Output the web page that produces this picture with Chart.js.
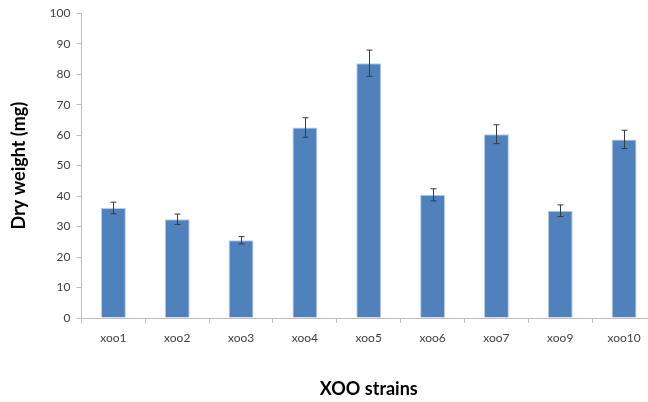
<!DOCTYPE html>
<html>
<head>
<meta charset="utf-8">
<script src="https://cdn.jsdelivr.net/npm/chart.js@4"></script>
<style>
  html, body { margin: 0; padding: 0; background: #fff; overflow: hidden; }
  #wrap { width: 656px; height: 402px; }
</style>
</head>
<body>
<div id="wrap"><canvas id="dwChart" width="656" height="402"></canvas></div>
<script>
// strains and measured dry weight (mg) with +/- error
const strains = ['xoo1', 'xoo2', 'xoo3', 'xoo4', 'xoo5', 'xoo6', 'xoo7', 'xoo9', 'xoo10'];
const dryWeight = [36.1, 32.4, 25.5, 62.5, 83.6, 40.4, 60.3, 35.2, 58.6];
const errors = [1.9, 1.7, 1.2, 3.2, 4.3, 2.0, 3.1, 1.9, 3.0];

// draws the error bars from the errors array using the chart scales
const errorBars = {
    id: 'errorBars',
    afterDatasetsDraw(chart) {
        const ctx = chart.ctx;
        const y = chart.scales.y;
        const meta = chart.getDatasetMeta(0);
        ctx.save();
        ctx.strokeStyle = '#3a3a3a';
        ctx.lineWidth = 1;
        meta.data.forEach((bar, i) => {
            const x = Math.round(bar.x) + 0.5;
            const top = y.getPixelForValue(dryWeight[i] + errors[i]);
            const bot = y.getPixelForValue(dryWeight[i] - errors[i]);
            ctx.beginPath();
            ctx.moveTo(x, top); ctx.lineTo(x, bot);
            ctx.moveTo(x - 3, top); ctx.lineTo(x + 3, top);
            ctx.moveTo(x - 3, bot); ctx.lineTo(x + 3, bot);
            ctx.stroke();
        });
        ctx.restore();
    }
};

const ctx = document.getElementById('dwChart').getContext('2d');
new Chart(ctx, {
    type: 'bar',
    data: {
        labels: strains,
        datasets: [{
            data: dryWeight,
            backgroundColor: '#4f81bd',
            borderColor: '#b9cde5',
            borderWidth: 1,
            barPercentage: 0.39,
            categoryPercentage: 1
        }]
    },
    options: {
        responsive: false,
        animation: false,
        layout: { padding: { top: 11, left: 8, right: 0, bottom: 2 } },
        plugins: { legend: { display: false }, tooltip: { enabled: false } },
        scales: {
            x: {
                grid: { drawOnChartArea: false, offset: true, tickLength: 5, color: '#bfbfbf' },
                border: { color: '#bfbfbf' },
                ticks: { color: '#404040', font: { family: 'Lato', size: 12 }, padding: 8 },
                title: {
                    display: true, text: 'XOO strains', color: '#000',
                    font: { family: 'Lato', size: 18, weight: 'bold' },
                    padding: { top: 25, bottom: 0 }
                }
            },
            y: {
                min: 0, max: 100,
                grid: { drawOnChartArea: false, tickLength: 5, color: '#bfbfbf' },
                border: { color: '#bfbfbf' },
                ticks: { stepSize: 10, color: '#404040', font: { family: 'Lato', size: 12 }, padding: 6 },
                title: {
                    display: true, text: 'Dry weight (mg)', color: '#000',
                    font: { family: 'Lato', size: 18, weight: 'bold' },
                    padding: { top: 0, bottom: 14 }
                }
            }
        }
    },
    plugins: [errorBars]
});
</script>
</body>
</html>
